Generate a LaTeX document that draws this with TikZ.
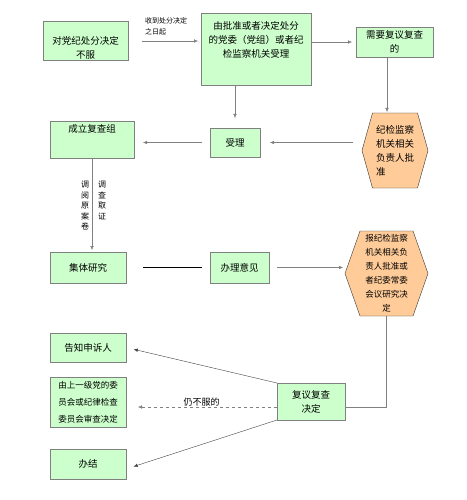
\documentclass[tikz,border=0pt]{standalone}
\usepackage{fontspec}
\setmainfont{Noto Sans CJK SC}
\usetikzlibrary{arrows.meta,backgrounds}

\definecolor{boxgreen}{HTML}{CCFFCC}
\definecolor{hexorange}{HTML}{FFCC99}
\definecolor{edgegray}{HTML}{808080}

\tikzset{
  stepbox/.style={draw=edgegray, fill=boxgreen, align=center, inner sep=1pt, outer sep=0pt, font=\fontsize{9.5}{14}\selectfont},
  hexbox/.style={inner sep=0pt, outer sep=0pt, font=\fontsize{9.5}{14}\selectfont},
  hexline/.style={draw=black!80, fill=hexorange},
  flow/.style={draw=edgegray, -{Latex[length=4pt,width=3.5pt]}},
  lbl/.style={font=\fontsize{7}{11}\selectfont, inner sep=0pt, align=left},
  vlbl/.style={font=\fontsize{8}{10.5}\selectfont, inner sep=0pt, align=center},
}

% hexagon round a node: name, indent of the points
\newcommand{\hexoutline}[2]{%
  \filldraw[hexline] (#1.west) -- ([xshift=#2]#1.north west) -- ([xshift=-#2]#1.north east)
    -- (#1.east) -- ([xshift=-#2]#1.south east) -- ([xshift=#2]#1.south west) -- cycle;}

\begin{document}
\begin{tikzpicture}[x=1pt,y=-1pt]
\useasboundingbox (0,0) rectangle (466,500);

 \node[stepbox, minimum width=85pt, minimum height=38pt] (bufu) at (85.5,41) {\rule{0pt}{22pt}对党纪处分决定\\不服};
 \node[stepbox, minimum width=110pt, minimum height=72pt] (shouliA) at (256,49) {由批准或者决定处分\\的党委（党组）或者纪\\检监察机关受理\\[6pt]\mbox{}};
 \node[stepbox, minimum width=77pt, minimum height=30pt] (xuyao) at (394.5,42) {需要复议复查\\的};
 \node[hexbox, minimum width=66pt, minimum height=75pt, align=left] (pizhun) at (395,150.5) {纪检监察\\机关相关\\负责人批\\准};
 \node[stepbox, minimum width=50pt, minimum height=29pt] (shouli) at (235,142.5) {受理};
 \node[stepbox, minimum width=84pt, minimum height=37pt] (fuchazu) at (92,139.5) {成立复查组\\[8pt]\mbox{}};
 \node[stepbox, minimum width=76pt, minimum height=31pt] (jiti) at (88,267.5) {集体研究};
 \node[stepbox, minimum width=59pt, minimum height=31pt] (yijian) at (239.5,267.5) {办理意见};
 \node[hexbox, minimum width=83pt, minimum height=85pt, align=center, font=\fontsize{8.5}{14}\selectfont] (changwei) at (386.5,273.5) {报纪检监察\\机关相关负\\责人批准或\\者纪委常委\\会议研究决\\定};
 \node[stepbox, minimum width=68pt, minimum height=37pt] (jueding) at (311,401.5) {复议复查\\决定};
 \node[stepbox, minimum width=76pt, minimum height=29pt] (gaozhi) at (88,347.5) {告知申诉人};
 \node[stepbox, minimum width=76pt, minimum height=50pt, align=left, font=\fontsize{8.5}{17}\selectfont] (shangji) at (88,402) {由上一级党的委\\员会或纪律检查\\委员会审查决定};
 \node[stepbox, minimum width=76pt, minimum height=30pt] (banjie) at (88,464) {办结};

 \begin{scope}[on background layer]
  \hexoutline{pizhun}{10.5pt}
  \hexoutline{changwei}{15pt}
 \end{scope}

 % labels
 \node[lbl, anchor=south west] (shixian) at (145,35) {收到处分决定\\之日起};
 \node[vlbl, anchor=north] (yuejuan) at (85,181) {调\\阅\\原\\案\\卷};
 \node[vlbl, anchor=north] (quzheng) at (102,181) {调\\查\\取\\证};

 % connectors
 \draw[flow, shorten <=14pt, shorten >=3pt] (bufu.east) -- (bufu.east -| shouliA.west);
 \draw[flow, shorten >=4pt] (shouliA.east |- xuyao.west) -- (xuyao.west);
 \draw[flow, shorten >=10pt] (shouliA.south -| shouli.north) -- (shouli.north);
 \draw[flow, shorten >=1pt] ([xshift=-7.5pt]xuyao.south) -- ([xshift=-7.5pt]xuyao.south |- pizhun.north);
 \draw[flow, shorten <=9pt, shorten >=10pt] (pizhun.west |- shouli.east) -- (shouli.east);
 \draw[flow, shorten <=8pt, shorten >=9pt] (shouli.west) -- (shouli.west -| fuchazu.east);
 \draw[flow, shorten >=2pt] (fuchazu.south) -- (fuchazu.south |- jiti.north);
 \draw[shorten <=17pt, shorten >=8pt] (jiti.east) -- (yijian.west);
 \draw[flow, shorten <=8pt, shorten >=2pt] (yijian.east) -- (yijian.east -| changwei.west);
 \draw[draw=edgegray] (changwei.south) |- ([yshift=-5.5pt]jueding.east);
 \draw[flow, draw=black!75, shorten >=8pt] (jueding.north west) -- (gaozhi.east);
 \draw[flow, dashed, shorten >=12pt] ([yshift=-5.5pt]jueding.west) -- node[lbl, font=\fontsize{9}{11}\selectfont, above=1pt] (rengbufu) {仍不服的} ([yshift=-5.5pt]jueding.west -| shangji.east);
 \draw[flow, draw=black!75, shorten >=8pt] (jueding.south west) -- ([yshift=-5pt]banjie.east);
\end{tikzpicture}
\end{document}
